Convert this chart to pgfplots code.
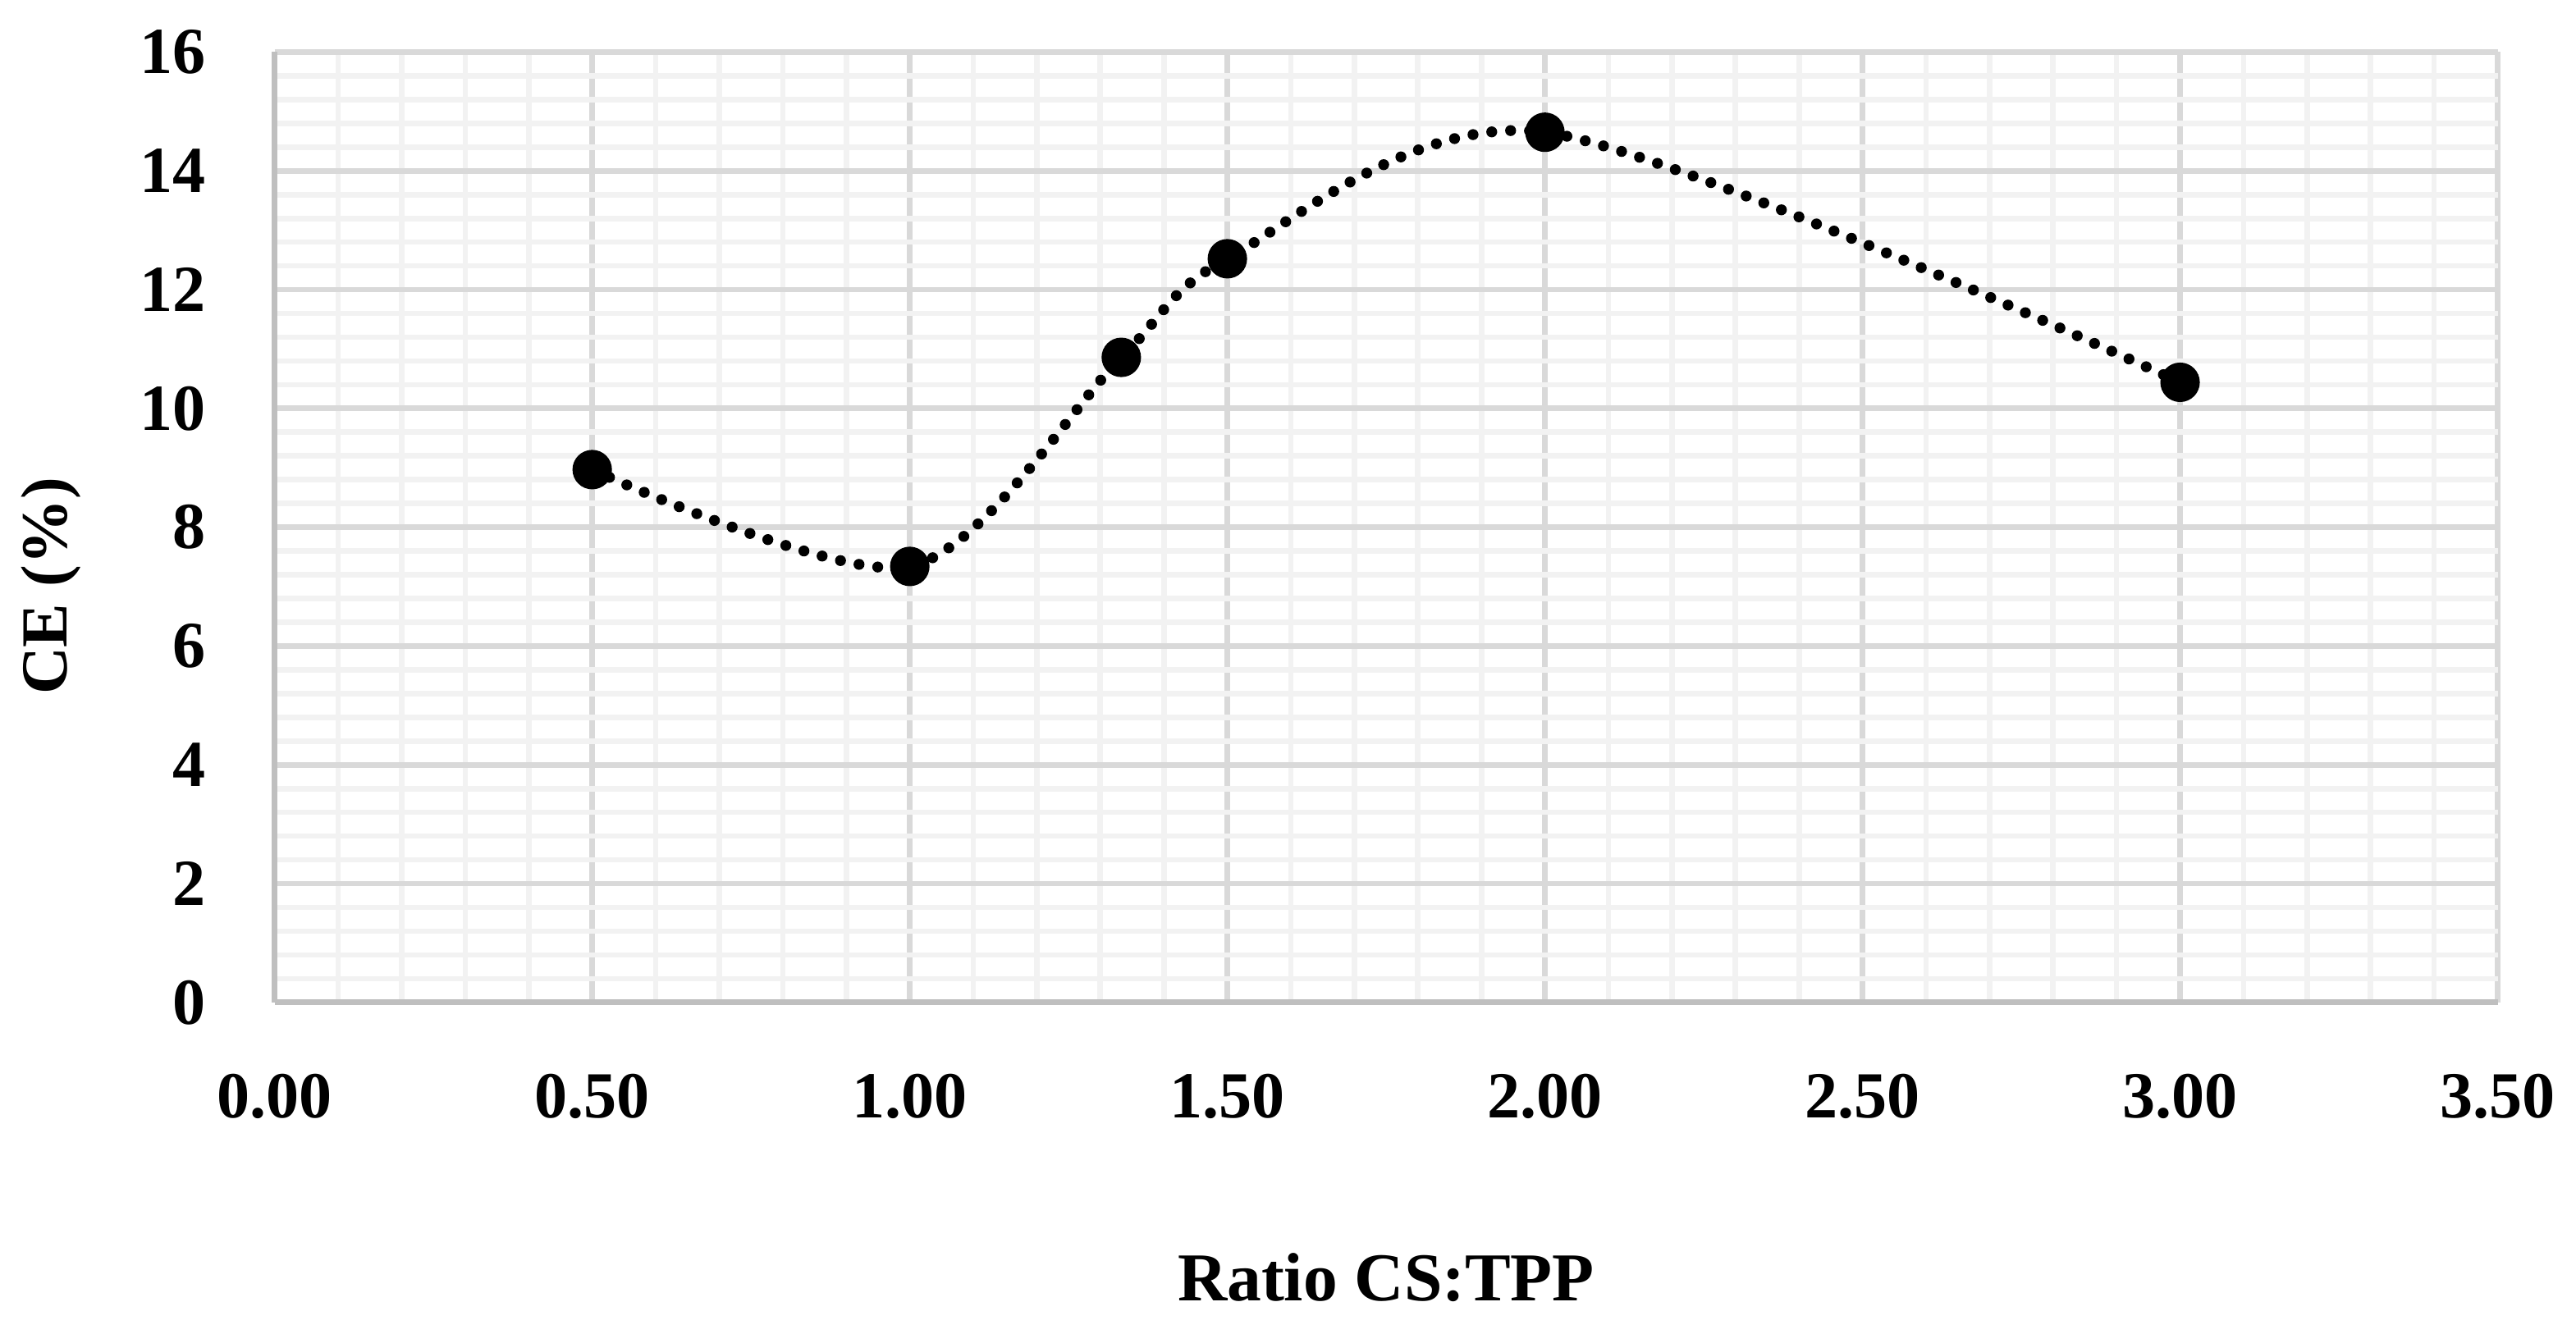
\documentclass[border=0pt]{standalone}
\usepackage{fontspec}
\setmainfont{Liberation Serif}
\usepackage{pgfplots}
\pgfplotsset{compat=1.18}
\definecolor{majgrid}{HTML}{D9D9D9}
\definecolor{mingrid}{HTML}{F2F2F2}
\definecolor{axcol}{HTML}{BFBFBF}
\begin{document}
\begin{tikzpicture}
\begin{axis}[
  scale only axis, width=405.5pt, height=173.4pt,
  xmin=0, xmax=3.5, ymin=0, ymax=16,
  xtick={0,0.5,1,1.5,2,2.5,3,3.5}, ytick={0,2,4,6,8,10,12,14,16},
  minor x tick num=4, minor y tick num=4,
  grid=both,
  major grid style={draw=majgrid, line width=1pt},
  minor grid style={draw=mingrid, line width=1pt},
  axis x line*=bottom, axis y line*=left,
  axis line style={draw=axcol, line width=1pt, -},
  major tick length=0pt, minor tick length=0pt,
  /pgf/number format/assume math mode=true,
  x tick label style={font=\fontsize{12}{14}\selectfont\bfseries, yshift=-9.5pt,
     /pgf/number format/.cd, fixed, fixed zerofill, precision=2, /tikz/.cd},
  y tick label style={font=\fontsize{12}{14}\selectfont\bfseries, xshift=-9pt},
  xlabel={Ratio CS:TPP},
  ylabel={CE (\%)},
  xlabel style={at={(axis description cs:0.5,0)}, anchor=base, yshift=-54.5pt,
     font=\fontsize{12.5}{15}\selectfont\bfseries},
  ylabel style={at={(axis description cs:-0.1004,0.438)}, anchor=center,
     font=\fontsize{12}{14}\selectfont\bfseries},
]
\addplot[black, line width=2pt, line cap=round, dash pattern=on 0pt off 3.45pt,
  smooth, tension=0.5,
  mark=*, mark size=3.4pt, mark options={solid, fill=black, line width=0.4pt}]
  coordinates {(0.5,8.97)(1,7.34)(1.333,10.86)(1.5,12.52)(2,14.65)(3,10.44)};
\end{axis}
\pgfresetboundingbox
\path (current axis.south west) ++(-50.1pt,-60.5pt) rectangle ++(469.9pt,243.4pt);
\end{tikzpicture}
\end{document}
